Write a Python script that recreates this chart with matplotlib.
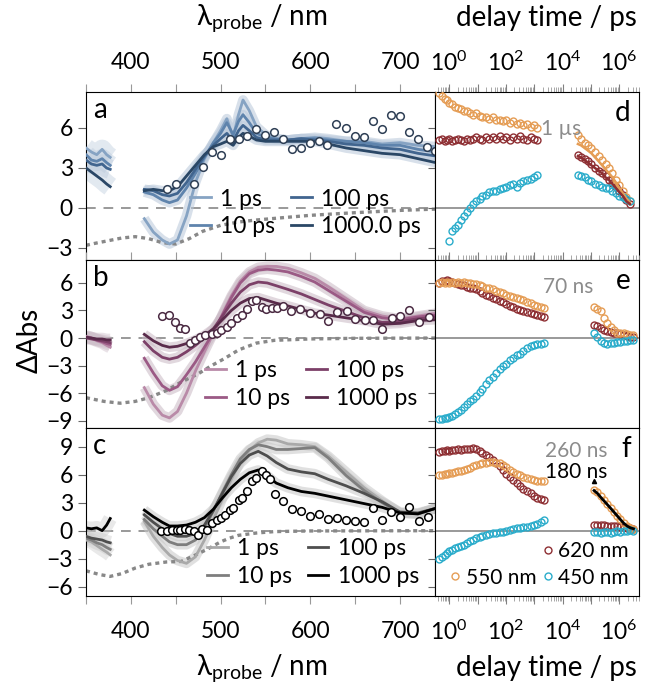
import numpy as np
import matplotlib
matplotlib.use('Agg')
import matplotlib.pyplot as plt
from matplotlib.lines import Line2D
from matplotlib.ticker import MultipleLocator, LogLocator, NullFormatter

plt.rcParams['font.family'] = ['Lato', 'DejaVu Sans']
plt.rcParams['mathtext.fontset'] = 'custom'
plt.rcParams['mathtext.rm'] = 'Lato'
plt.rcParams['mathtext.it'] = 'Lato:italic'
plt.rcParams['mathtext.bf'] = 'Lato:bold'
plt.rcParams['font.size'] = 16.5

# ---------------- spectra (left column) ----------------
delays = ['1 ps', '10 ps', '100 ps', '1000 ps']
delays_a = ['1 ps', '10 ps', '100 ps', '1000.0 ps']

wl_left = [350, 356, 362, 368, 373, 377]

# panel a
wl_a = [415, 425, 435, 443, 452, 462, 472, 482, 492, 500, 507, 514, 520, 525, 532, 540,
        550, 560, 575, 590, 605, 620, 640, 660, 680, 700, 720, 740]
a_left = [[4.5, 4.2, 4.0, 4.4, 4.0, 3.8],
          [4.0, 3.6, 3.5, 3.7, 3.4, 3.2],
          [3.6, 3.3, 3.2, 3.3, 3.0, 2.9],
          [3.0, 2.7, 2.4, 2.1, 1.8, 1.6]]
a_right = [[-0.8, -1.8, -2.4, -2.7, -2.4, -0.6, 1.9, 3.7, 4.9, 5.8, 6.7, 5.3, 7.0, 8.1, 7.3, 6.1,
            5.5, 5.2, 5.1, 5.2, 5.3, 5.2, 5.0, 5.0, 4.8, 4.9, 4.7, 4.6],
           [1.2, 1.0, 0.6, 0.4, 0.6, 1.5, 2.6, 3.8, 4.9, 5.6, 6.4, 5.5, 6.5, 7.0, 6.4, 5.6,
            5.3, 5.2, 5.1, 5.2, 5.2, 5.1, 5.0, 4.9, 4.7, 4.7, 4.4, 4.2],
           [1.4, 1.3, 1.0, 0.9, 1.1, 1.9, 2.9, 3.9, 4.7, 5.2, 5.6, 5.0, 5.8, 6.2, 5.8, 5.3,
            5.1, 5.1, 5.1, 5.2, 5.1, 5.0, 4.8, 4.7, 4.5, 4.4, 4.1, 3.9],
           [1.3, 1.4, 1.3, 1.3, 1.6, 2.4, 3.2, 4.0, 4.6, 4.8, 5.0, 4.7, 5.3, 5.6, 5.4, 5.1,
            5.0, 5.0, 5.0, 5.0, 5.0, 4.8, 4.5, 4.3, 4.1, 4.0, 3.7, 3.4]]
a_pts_wl = [440, 450, 470, 480, 490, 500, 510, 521, 530, 540, 550, 560, 570, 580, 590, 600,
            610, 619, 629, 640, 650, 660, 670, 680, 690, 700, 710, 720, 730, 739]
a_pts = [1.4, 1.8, 1.8, 3.1, 4.2, 4.0, 5.2, 5.2, 5.4, 5.9, 5.5, 5.7, 5.2, 4.4, 4.5, 4.9,
         5.0, 4.7, 6.3, 6.0, 5.4, 5.3, 6.5, 5.9, 7.0, 6.9, 5.7, 5.2, 4.6, 4.3]
a_abs_wl = [350, 360, 375, 390, 405, 420, 435, 450, 465, 480, 500, 520, 540, 560, 600, 650, 700, 740]
a_abs = [-2.8, -2.65, -2.45, -2.25, -2.15, -2.3, -2.6, -2.7, -2.3, -1.75, -1.3, -1.05, -0.9,
         -0.78, -0.55, -0.35, -0.18, -0.08]

# panel b
wl_bc = [415, 425, 435, 443, 452, 462, 472, 482, 492, 502, 512, 522, 532, 542, 552, 562,
         575, 590, 605, 620, 640, 660, 680, 700, 720, 740]
b_left = [[0.2, 0.0, -0.3, -0.5, -0.8, -1.0],
          [0.1, 0.0, -0.2, -0.4, -0.6, -0.7],
          [0.0, -0.1, -0.2, -0.3, -0.4, -0.5],
          [0.1, 0.0, -0.1, -0.1, -0.2, -0.2]]
b_right = [[-5.4, -7.2, -8.4, -8.7, -8.0, -6.0, -3.6, -1.5, 0.5, 2.6, 4.6, 6.2, 7.2, 7.7, 7.8, 7.8,
            7.6, 7.1, 6.5, 5.6, 4.3, 3.0, 2.4, 2.1, 2.4, 2.7],
           [-2.2, -3.8, -5.2, -5.7, -5.3, -4.0, -2.6, -1.0, 0.6, 2.5, 4.4, 6.0, 7.0, 7.4, 7.5, 7.4,
            7.2, 6.7, 6.1, 5.2, 4.0, 2.8, 2.2, 2.0, 2.3, 2.5],
           [-0.4, -1.4, -2.1, -2.3, -2.1, -1.5, -0.8, 0.0, 1.0, 2.4, 3.8, 5.0, 5.8, 6.1, 6.0, 5.7,
            5.3, 4.8, 4.2, 3.6, 2.9, 2.2, 1.7, 1.8, 2.1, 2.3],
           [0.4, -0.3, -0.8, -1.0, -0.9, -0.6, -0.2, 0.3, 1.0, 2.0, 3.0, 3.8, 4.3, 4.4, 4.1, 3.8,
            3.5, 3.1, 2.7, 2.5, 2.2, 1.9, 1.5, 1.6, 1.9, 2.0]]
b_pts_wl = [435, 442, 449, 455, 460, 466, 471, 477, 483, 490, 496, 501, 507, 512, 518, 524,
            529, 535, 540, 546, 551, 557, 563, 570, 579, 589, 600, 611, 620, 630, 641, 650,
            661, 670, 680, 691, 700, 710, 721, 732]
b_pts = [2.4, 2.5, 1.8, 1.1, 1.0, -0.5, -0.2, 0.1, 0.3, 0.4, 0.5, 0.9, 1.2, 1.6, 2.2, 2.5,
         3.2, 4.0, 4.1, 3.4, 3.2, 3.3, 3.3, 3.5, 2.9, 3.2, 2.7, 2.6, 1.9, 2.8, 2.9, 2.1,
         2.0, 2.0, 1.0, 2.2, 2.4, 3.1, 1.7, 2.3]
b_abs_wl = [350, 370, 388, 405, 420, 440, 456, 475, 490, 505, 520, 540, 560, 600, 650, 740]
b_abs = [-6.5, -6.9, -7.1, -6.9, -6.5, -5.7, -4.8, -3.9, -3.0, -2.2, -1.3, -0.55, -0.25,
         -0.1, -0.03, 0.0]

# panel c
c_left = [[-1.0, -1.2, -1.6, -2.0, -2.3, -2.6],
          [-0.8, -1.0, -1.3, -1.5, -1.8, -2.0],
          [-0.6, -0.8, -0.9, -1.0, -1.2, -1.3],
          [0.3, 0.2, 0.3, 0.0, 0.6, 1.3]]
c_right = [[1.0, -0.6, -1.8, -2.6, -3.2, -3.5, -2.8, -1.0, 1.2, 3.4, 5.5, 7.4, 8.6, 9.4, 9.8, 9.7,
            9.3, 9.2, 9.0, 8.0, 6.3, 4.6, 3.2, 1.9, 1.8, 2.4],
           [1.2, 0.2, -0.6, -1.2, -1.5, -1.5, -1.0, 0.3, 2.1, 4.1, 6.0, 7.7, 8.7, 9.2, 9.0, 8.7,
            8.7, 8.8, 8.9, 7.8, 5.9, 4.3, 3.0, 1.9, 1.8, 2.4],
           [1.7, 0.9, 0.2, -0.3, -0.6, -0.6, -0.3, 0.6, 2.2, 4.0, 5.8, 7.2, 8.1, 8.5, 8.0, 7.3,
            6.6, 6.3, 6.1, 5.5, 4.8, 4.0, 3.1, 2.0, 1.9, 2.4],
           [2.2, 1.5, 0.9, 0.5, 0.5, 0.6, 0.9, 1.4, 2.3, 3.5, 4.6, 5.5, 6.2, 6.5, 5.9, 5.1,
            4.6, 4.2, 4.0, 3.7, 3.3, 2.9, 2.5, 1.9, 1.8, 2.4]]
c_pts_wl = [434, 440, 446, 451, 455, 460, 465, 470, 475, 479, 485, 490, 496, 500, 505, 510,
            514, 520, 524, 530, 535, 540, 546, 551, 555, 561, 570, 580, 590, 600, 610, 620,
            630, 640, 650, 660, 670, 680, 690, 700, 710, 721, 731]
c_pts = [-0.07, 0.0, 0.04, 0.11, 0.11, 0.18, 0.11, 0.0, -0.43, 0.18, 0.11, 0.82, 1.18, 1.36,
         1.71, 2.18, 2.43, 3.32, 3.5, 4.22, 5.29, 5.65, 6.36, 6.0, 5.54, 3.97, 3.22, 2.32,
         2.07, 1.61, 1.82, 1.25, 1.36, 1.18, 1.0, 0.89, 2.43, 1.18, 1.96, 1.46, 2.54, 1.0, 1.46]
c_abs_wl = [350, 365, 377, 390, 405, 420, 440, 456, 470, 485, 500, 510, 520, 540, 560, 600, 740]
c_abs = [-4.3, -4.7, -4.9, -4.6, -4.0, -3.6, -3.35, -3.3, -2.7, -2.0, -1.2, -0.8, -0.5, -0.25,
         -0.1, -0.03, 0.0]

# ---------------- kinetics (right column) ----------------
t_fs = [0.45, 0.55, 0.7, 0.85, 1.0, 1.3, 1.6, 2.0, 2.6, 3.3, 4.2, 5.5, 7, 9, 12, 15, 20, 26,
        34, 45, 60, 80, 105, 140, 185, 245, 320, 420, 560, 750, 1000, 1300, 1700, 2200]
nan = np.nan
d_620 = [5.1, 5.2, 5.0, 5.1, 5.2, 5.0, 5.1, 5.2, 5.1, 5.0, 5.2, 5.1, 5.2, 5.3, 5.2, 5.1, 5.3,
         5.2, 5.3, 5.2, 5.4, 5.2, 5.3, 5.1, 5.3, 5.2, 5.4, 5.2, 5.1, 5.3, 5.2, 5.1, nan, nan]
d_550 = [8.6, 8.4, 8.2, 8.1, 7.9, 7.8, 7.6, 7.5, 7.4, 7.3, 7.3, 7.1, 7.0, 7.1, 6.9, 6.8, 6.8,
         6.7, 6.8, 6.6, 6.6, 6.5, 6.6, 6.4, 6.5, 6.3, 6.4, 6.2, 6.3, 6.1, 6.2, 6.0, nan, nan]
d_450 = [nan, nan, nan, nan, -2.5, -1.7, -1.5, -1.3, -0.9, -0.6, -0.3, 0.0, 0.3, 0.5, 0.7, 0.9,
         1.0, 1.2, 1.3, 1.3, 1.4, 1.5, 1.6, 1.7, 1.8, 1.6, 1.9, 2.0, 2.1, 2.2, 2.3, 2.5, nan, nan]
e_620 = [6.0, 6.2, 6.2, 6.3, 6.2, 6.1, 6.0, 5.9, 5.8, 5.8, 5.6, 5.5, 5.4, 5.3, 5.1, 4.9, 4.7,
         4.6, 4.4, 4.2, 4.0, 3.9, 3.7, 3.5, 3.4, 3.2, 3.0, 2.9, 2.8, 2.7, 2.6, 2.5, 2.4, 2.3]
e_550 = [6.0, 6.1, 6.0, 6.1, 6.0, 6.1, 6.0, 6.1, 6.0, 6.1, 6.0, 6.0, 5.9, 5.9, 5.8, 5.7, 5.5,
         5.4, 5.3, 5.1, 5.0, 4.9, 4.7, 4.6, 4.5, 4.4, 4.2, 4.1, 3.9, 3.8, 3.6, 3.5, 3.4, 3.3]
e_450 = [-8.8, -8.8, -8.7, -8.7, -8.6, -8.5, -8.3, -8.1, -7.8, -7.5, -7.2, -6.9, -6.6, -6.3,
         -5.9, -5.5, -5.0, -4.6, -4.2, -3.8, -3.4, -3.1, -2.8, -2.4, -2.2, -1.9, -1.7, -1.4,
         -1.1, -0.9, -0.8, -0.7, -0.6, -0.5]
f_620 = [8.4, 8.5, 8.5, 8.6, 8.5, 8.6, 8.6, 8.7, 8.6, 8.7, 8.7, 8.8, 8.9, 8.8, 8.5, 8.3, 8.1,
         7.9, 7.6, 7.3, 6.9, 6.5, 6.1, 5.7, 5.4, 5.1, 4.8, 4.5, 4.2, 4.0, 3.7, 3.5, 3.4, 3.3]
f_550 = [6.0, 6.0, 6.1, 6.1, 6.2, 6.2, 6.3, 6.4, 6.4, 6.5, 6.6, 6.7, 6.9, 7.0, 7.1, 7.2, 7.3,
         7.4, 7.4, 7.3, 7.2, 7.0, 6.8, 6.5, 6.3, 6.1, 6.0, 5.8, 5.6, 5.5, 5.4, 5.3, 5.3, 5.3]
f_450 = [-3.0, -2.8, -2.6, -2.4, -2.2, -2.1, -1.9, -1.7, -1.6, -1.5, -1.3, -1.1, -1.0, -0.8,
         -0.7, -0.6, -0.5, -0.4, -0.3, -0.2, -0.1, -0.1, 0.0, 0.1, 0.2, 0.3, 0.3, 0.4, 0.4,
         0.5, 0.6, 0.7, 0.9, 1.1]

t_ns_d = [3.5e4, 4.5e4, 6e4, 8e4, 1.05e5, 1.4e5, 1.9e5, 2.5e5, 3.3e5, 4.4e5, 5.8e5, 7.7e5,
          1.0e6, 1.35e6, 1.8e6, 2.4e6]
dn_620 = [4.0, 3.8, 3.7, 3.5, 3.3, 3.0, 2.8, 2.6, 2.4, 2.1, 1.9, 1.6, 1.3, 1.0, 0.6, 0.3]
dn_550 = [5.5, 5.2, 4.9, 4.7, 4.5, 4.2, 3.9, 3.6, 3.3, 3.0, 2.6, 2.1, 1.7, 1.3, 0.85, 0.5]
dn_450 = [2.5, 2.4, 2.3, 2.1, 2.0, 1.8, 1.7, 1.6, 1.5, 1.5, 1.3, 1.1, 0.9, 0.8, 0.7, 0.5]
dfit_620 = [3.9, 3.8, 3.6, 3.4, 3.2, 3.0, 2.8, 2.6, 2.3, 2.1, 1.8, 1.5, 1.2, 0.9, 0.5, 0.3]
dfit_550 = [4.8, 4.7, 4.5, 4.3, 4.1, 3.8, 3.5, 3.2, 2.9, 2.6, 2.3, 1.9, 1.5, 1.1, 0.7, 0.4]

t_ns_ef = [1.3e5, 1.7e5, 2.2e5, 2.9e5, 3.8e5, 5e5, 6.5e5, 8.5e5, 1.1e6, 1.45e6, 1.9e6, 2.5e6, 3.2e6]
en_620 = [1.4, 1.3, 1.1, 0.9, 0.8, 0.7, 0.6, 0.5, 0.4, 0.3, 0.2, 0.15, 0.1]
en_550 = [3.4, 3.2, 2.9, 2.2, 1.6, 1.2, 0.9, 0.6, 0.5, 0.5, 0.4, 0.3, 0.3]
en_450 = [0.5, 0.1, -0.3, -0.5, -0.6, -0.5, -0.5, -0.4, -0.4, -0.3, -0.3, -0.2, -0.2]
fn_620 = [0.6, 0.6, 0.6, 0.6, 0.5, 0.5, 0.5, 0.5, 0.4, 0.4, 0.3, 0.3, 0.2]
fn_550 = [4.4, 4.1, 3.7, 3.3, 2.9, 2.4, 2.0, 1.6, 1.2, 0.8, 0.5, 0.3, 0.2]
fn_450 = [-0.1, -0.1, -0.2, -0.1, -0.1, -0.2, -0.1, 0.0, -0.1, 0.0, 0.0, 0.1, 0.0]
ffit_550 = [4.3, 4.0, 3.6, 3.2, 2.8, 2.4, 2.0, 1.6, 1.2, 0.8, 0.5, 0.3, 0.2]

# ---------------- styling ----------------
line_cols = [['#86a3c3', '#5f84ad', '#41658f', '#2a4766'],
             ['#b98aa8', '#9b5a85', '#7c4068', '#5a2b4b'],
             ['#a9a9a9', '#7e7e7e', '#4e4e4e', '#000000']]
band_cols = ['#b8c8da', '#c9b8c4', '#c8c8c8']
band_left_lw = [14, 9, 10]
pt_edge = ['#2e3f55', '#4a2a42', '#000000']
c620, c550, c450 = '#8e2f33', '#e59d55', '#2aaccb'
ylims = [(-3.9, 8.7), (-9.8, 8.5), (-7.0, 11.0)]
yticks = [[-3, 0, 3, 6], [-9, -6, -3, 0, 3, 6], [-6, -3, 0, 3, 6, 9]]
leg_anchor = [(0.985, 0.08), (0.975, 0.06), (0.98, 0.0)]

W, H = 654, 690


def box(x0, y0, x1, y1):
    return [x0 / W, 1 - y1 / H, (x1 - x0) / W, (y1 - y0) / H]


fig = plt.figure(figsize=(W / 100, H / 100), dpi=100)
rows = [(92, 260), (260, 428), (428, 596)]

left_data = [(wl_a, a_left, a_right, a_pts_wl, a_pts, a_abs_wl, a_abs, delays_a),
             (wl_bc, b_left, b_right, b_pts_wl, b_pts, b_abs_wl, b_abs, delays),
             (wl_bc, c_left, c_right, c_pts_wl, c_pts, c_abs_wl, c_abs, delays)]
kin_fs = [(d_620, d_550, d_450), (e_620, e_550, e_450), (f_620, f_550, f_450)]
kin_ns = [(t_ns_d, dn_620, dn_550, dn_450), (t_ns_ef, en_620, en_550, en_450),
          (t_ns_ef, fn_620, fn_550, fn_450)]

for i, (top, bot) in enumerate(rows):
    axL = fig.add_axes(box(86, top, 435, bot))
    axR = fig.add_axes(box(435, top, 639, bot))
    wl_r, yl, yr, pwl, pv, awl, av, labs = left_data[i]

    axL.axhline(0, color='#999999', lw=1.4, ls=(0, (5, 4)), zorder=1)
    handles = []
    for k in range(4):
        col = line_cols[i][k]
        axL.plot(wl_left, yl[k], color=band_cols[i], lw=band_left_lw[i], alpha=0.4, zorder=2,
                 solid_capstyle='butt')
        axL.plot(wl_r, yr[k], color=band_cols[i], lw=7, alpha=0.55, zorder=2,
                 solid_capstyle='butt')
        axL.plot(wl_left, yl[k], color=col, lw=2, zorder=3)
        h, = axL.plot(wl_r, yr[k], color=col, lw=2, zorder=3)
        handles.append(h)
    axL.plot(awl, av, color='#888888', lw=2.4, ls=(0, (1.2, 1.2)), zorder=2)
    axL.plot(pwl, pv, 'o', mfc='white', mec=pt_edge[i], mew=1.1, ms=5.5, zorder=5)

    axL.legend(handles, labs, ncol=2, loc='lower right', bbox_to_anchor=leg_anchor[i],
               borderaxespad=0, frameon=False, handlelength=0.9, handletextpad=0.4,
               columnspacing=0.7, labelspacing=0.3, fontsize=16.5)

    axL.set_xlim(350, 739)
    axL.set_ylim(*ylims[i])
    axL.set_yticks(yticks[i])
    axL.xaxis.set_major_locator(MultipleLocator(100))
    axL.xaxis.set_minor_locator(MultipleLocator(50))
    axL.tick_params(axis='x', which='both', direction='out', length=6, width=0.8, color='0.6',
                    top=(i < 2), bottom=(i > 0), labeltop=(i == 0), labelbottom=(i == 2))
    axL.tick_params(axis='x', which='major', pad=12 if i == 2 else 8)
    axL.tick_params(axis='y', direction='out', length=6, width=0.8, color='0.4')
    axL.text(0.02, 0.97, 'abc'[i], transform=axL.transAxes, ha='left', va='top', fontsize=20)

    # kinetics
    axR.axhline(0, color='#888888', lw=1.2, zorder=1)
    k620, k550, k450 = kin_fs[i]
    tn, n620, n550, n450 = kin_ns[i]
    for tt, vals, col in ((t_fs, k620, c620), (t_fs, k550, c550), (t_fs, k450, c450),
                          (tn, n620, c620), (tn, n550, c550), (tn, n450, c450)):
        axR.plot(tt, vals, 'o', mfc='none', mec=col, mew=1.0, ms=5, zorder=3)
    if i == 0:
        axR.plot(t_ns_d, dfit_550, color=c550, lw=1.8, zorder=4)
        axR.plot(t_ns_d, dfit_620, color=c620, lw=1.8, zorder=4)
        axR.text(1800, 5.9, '1 µs', color='0.55', fontsize=15, ha='left', va='center')
    if i == 1:
        axR.text(2000, 5.6, '70 ns', color='0.55', fontsize=15, ha='left', va='center')
    if i == 2:
        axR.plot(t_ns_ef, ffit_550, color='black', lw=2, zorder=4)
        axR.plot([1.3e5], [5.3], '^', color='black', ms=3)
        axR.text(2400, 8.5, '260 ns', color='0.55', fontsize=15, ha='left', va='center')
        axR.text(2400, 6.3, '180 ns', color='black', fontsize=15, ha='left', va='center')
        hs = [Line2D([], [], ls='none'),
              Line2D([], [], ls='none', marker='o', mfc='none', mec=c550, ms=5),
              Line2D([], [], ls='none', marker='o', mfc='none', mec=c620, ms=5),
              Line2D([], [], ls='none', marker='o', mfc='none', mec=c450, ms=5)]
        axR.legend(hs, ['', '550 nm', '620 nm', '450 nm'], ncol=2, loc='lower right',
                   bbox_to_anchor=(0.99, 0.0), borderaxespad=0, frameon=False,
                   handlelength=0.4, handletextpad=0.3, columnspacing=0.35,
                   labelspacing=0.3, fontsize=15)
    axR.text(0.96, 0.95, 'def'[i], transform=axR.transAxes, ha='right', va='top', fontsize=20)

    axR.set_xscale('log')
    axR.set_xlim(10 ** -0.5, 10 ** 6.7)
    axR.set_ylim(*ylims[i])
    axR.set_xticks([10.0 ** k for k in range(7)],
                   ['$10^{0}$', '', '$10^{2}$', '', '$10^{4}$', '', '$10^{6}$'])
    axR.xaxis.set_minor_locator(LogLocator(base=10, subs=np.arange(2, 10), numticks=50))
    axR.xaxis.set_minor_formatter(NullFormatter())
    axR.set_yticks(yticks[i])
    axR.tick_params(axis='y', direction='out', length=5, width=0.8, color='0.4', labelleft=False)
    axR.tick_params(axis='x', which='major', direction='out', length=6, width=0.8, color='0.5',
                    pad=11 if i == 2 else 6)
    axR.tick_params(axis='x', which='minor', direction='out', length=3.5, width=0.6, color='0.6')
    axR.tick_params(axis='x', which='both', top=(i < 2), bottom=(i > 0),
                    labeltop=(i == 0), labelbottom=(i == 2))

lab_x = 'λ$_{\\mathregular{probe}}$ / nm'
fig.text(262 / W, 1 - 18 / H, lab_x, ha='center', va='center', fontsize=20)
fig.text(546 / W, 1 - 18 / H, 'delay time / ps', ha='center', va='center', fontsize=20)
fig.text(262 / W, 1 - 668 / H, lab_x, ha='center', va='center', fontsize=20)
fig.text(546 / W, 1 - 668 / H, 'delay time / ps', ha='center', va='center', fontsize=20)
fig.text(30 / W, 1 - 340 / H, 'ΔAbs', ha='center', va='center', rotation=90, fontsize=20)

fig.savefig('out.png', dpi=100)
